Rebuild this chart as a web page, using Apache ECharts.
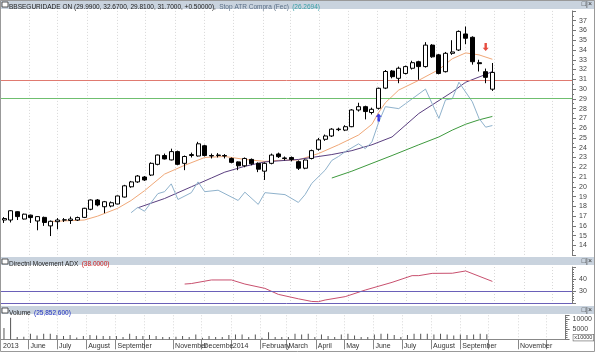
<!DOCTYPE html>
<html><head><meta charset="utf-8">
<script src="https://cdn.jsdelivr.net/npm/echarts@6/dist/echarts.min.js"></script>
<style>html,body{margin:0;padding:0;background:#fff}#c{width:595px;height:352px}</style>
</head><body><div id="c"></div><script>
// Weekly candles, BBSEGURIDADE ON, May 2013 - Sep 2014
const FONT = 'Liberation Sans, Arial, sans-serif';
const T0 = Date.UTC(2013, 4, 6), WEEK = 7 * 864e5;
const wt = (i) => T0 + i * WEEK;

// [open, close, low, high] per week
const ohlc = [
  [16.6,16.75,16.3,16.9],[16.6,17.55,16.35,17.6],[17.45,16.95,16.6,17.5],[16.7,17.2,16.65,17.25],
  [17.1,16.85,16.3,17.15],[16.5,16.95,15.55,17.0],[16.87,16.35,16.0,16.95],[16.0,16.47,14.96,16.55],
  [16.43,16.6,15.65,16.8],[16.6,16.62,16.4,16.8],[16.55,16.7,16.2,16.95],[16.6,16.85,16.5,16.95],
  [16.87,17.8,16.8,17.85],[17.7,18.65,17.6,18.7],[18.65,18.14,18.0,18.75],[17.96,18.47,17.3,18.55],
  [18.03,18.37,17.9,18.5],[18.24,19.06,18.2,19.1],[18.95,20.1,18.9,20.2],[20.0,20.5,19.9,20.6],
  [20.5,21.1,20.4,21.2],[21.0,20.7,20.6,21.1],[21.2,22.4,21.1,22.5],[22.3,23.25,22.2,23.3],
  [23.2,22.85,22.8,23.4],[22.75,23.6,22.7,23.9],[23.6,22.3,22.2,23.7],[22.4,23.1,21.7,23.2],
  [23.2,23.3,23.0,23.5],[23.15,24.4,23.1,24.6],[24.2,23.2,23.1,24.3],[23.2,23.15,22.9,23.4],
  [23.2,23.25,23.0,23.45],[23.2,23.15,22.9,23.35],[22.9,22.5,22.4,23.0],[22.55,22.15,21.7,22.6],
  [22.15,22.9,22.0,23.0],[22.8,22.35,22.2,22.9],[22.4,21.8,21.5,22.5],[21.6,22.4,20.7,22.5],
  [22.4,23.25,22.3,23.4],[23.36,23.08,22.95,23.5],[22.95,22.9,22.7,23.1],[23.0,22.8,22.6,23.1],
  [22.57,21.9,21.72,22.7],[21.9,22.74,21.8,22.8],[22.9,23.7,22.8,23.8],[23.84,24.8,23.7,25.0],
  [24.86,25.2,24.7,25.35],[25.2,25.9,25.1,26.0],[25.85,25.9,25.7,26.05],[25.8,26.15,25.7,26.3],
  [26.15,27.86,26.1,27.95],[27.86,28.2,27.7,28.6],[28.2,27.7,26.9,28.3],[27.6,27.93,27.4,28.1],
  [28.03,30.08,27.9,30.15],[30.1,31.8,30.0,31.95],[31.85,31.27,31.1,31.95],[31.1,32.13,30.6,32.3],
  [31.6,32.3,31.5,32.4],[32.13,32.7,32.0,32.9],[32.8,32.3,30.95,32.9],[32.3,34.5,32.2,34.8],
  [34.5,33.3,33.2,34.6],[33.5,31.6,31.5,33.6],[31.78,33.66,31.7,33.8],[33.66,33.8,33.5,35.0],
  [34.0,35.9,33.9,36.0],[35.64,35.2,34.6,36.4],[35.3,32.8,32.5,35.4],[32.7,32.6,31.8,33.0],
  [31.78,31.2,30.6,32.1],[29.99,31.7,29.81,32.67]
];

// volume, x10000
const volume = [5650,10800,1100,1300,2750,1900,2750,2750,2100,1600,2100,900,1600,2100,1900,1600,
  1600,1600,1100,2750,1600,1600,2100,1600,1100,1100,1300,1600,1100,2400,800,1600,1100,1100,2100,
  2400,2400,1100,2400,800,3500,1100,1100,1100,2750,2400,2750,1100,2400,1600,1100,2400,2750,1900,
  1100,1100,2400,2750,2750,2100,1100,2100,2750,2750,2750,2400,2750,2400,1900,2400,2100,2400,2750,2585];

// overlay lines: [week index, value]
const maFast = [[7,16.45],[12,16.6],[14,17.0],[17,17.8],[19,18.6],[21,19.6],[24,21.3],[27,22.2],[30,23.0],
  [33,23.1],[36,22.8],[39,22.6],[41,22.7],[44,22.75],[47,23.4],[50,24.3],[53,25.3],[55,26.4],[56,27.6],
  [57,28.6],[59,29.9],[62,30.9],[65,32.0],[67,33.1],[69,33.7],[71,33.5],[73,33.05]];
const maSlow = [[20,17.85],[24,18.8],[28,20.0],[31,20.9],[33,21.5],[36,22.1],[39,22.55],[44,22.8],
  [49,23.3],[52,23.7],[55,24.3],[58,25.1],[62,27.5],[67,29.7],[69,30.7],[72,31.5],[73,31.8]];
const maLong = [[49,20.9],[52,21.6],[55,22.4],[58,23.2],[62,24.3],[65,25.1],[67,25.8],[69,26.4],[71,26.85],[73,27.2]];
const stopAtr = [[19,17.35],[20,17.9],[21,17.5],[23,19.3],[24,19.5],[25,20.3],[26,18.7],[28,19.4],[29,20.5],
  [30,19.5],[32,19.65],[35,18.6],[36,19.45],[38,18.2],[39,19.4],[42,19.2],[44,18.4],[45,19.2],[46,20.35],
  [48,21.7],[49,22.7],[50,23.1],[51,23.6],[53,24.4],[54,23.9],[55,24.6],[56,26.6],[57,28.2],[59,28.0],
  [60,28.5],[63,30.0],[64,28.5],[65,27.0],[66,28.9],[67,29.0],[68,30.7],[70,28.7],[71,27.0],[72,26.1],[73,26.27]];
const adx = [[27,35.8],[28,36.2],[31,39.2],[34,39.2],[36,35.8],[39,32.2],[41,27.2],[44,23.5],[46,21.3],
  [47,21.1],[48,22.5],[51,25.3],[54,30.8],[58,37.2],[61,42.8],[62,42.8],[64,44.7],[67,44.8],[69,46.7],[73,38.0]];
const levels = { red: 30.9, green: 29.05 };
const buySignal = [[56, 27.1]];
const sellSignal = [[72, 34.3]];
const lastClose = 31.7;

// month ticks and their labels
const months = [
  [2013,5,'June'],[2013,6,'July'],[2013,7,'August'],[2013,8,'September'],[2013,9,''],[2013,10,'November'],
  [2013,11,'Decembe'],[2014,0,'2014'],[2014,1,'February'],[2014,2,'March'],[2014,3,'April'],[2014,4,'May'],
  [2014,5,'June'],[2014,6,'July'],[2014,7,'August'],[2014,8,'September'],[2014,9,''],[2014,10,'November'],[2014,11,'']
];
const xMin = wt(-0.45), xMax = wt(84.9);
const monthTicks = months.map(m => Date.UTC(m[0], m[1], 1));
const labelText = {}; labelText[xMin] = '2013';
months.forEach((m, k) => { if (m[2]) labelText[monthTicks[k]] = m[2]; });
const labelTicks = Object.keys(labelText).map(Number);

const pts = (arr) => arr.map(([i, v]) => [wt(i), v]);
const GRID_C = '#d8d8d8';

function xAx(gi, showLabels) {
  return {
    type: 'value', gridIndex: gi, min: xMin, max: xMax, scale: true,
    axisLine: { show: showLabels, onZero: false, lineStyle: { color: '#888' } },
    axisTick: { show: showLabels, customValues: monthTicks, length: 10, lineStyle: { color: '#888' } },
    axisLabel: showLabels ? {
      customValues: labelTicks, formatter: (v) => labelText[v] || '', align: 'left', margin: 3,
      color: '#333', fontSize: 7, fontFamily: FONT, padding: [0, 0, 0, 2], hideOverlap: false
    } : { show: false, customValues: monthTicks },
    splitLine: { show: true, lineStyle: { color: GRID_C, type: [1, 2], width: 1 } },
  };
}
function yAx(gi, opt) {
  return Object.assign({
    type: 'value', gridIndex: gi, position: 'right',
    axisLine: { show: true, lineStyle: { color: '#777' } },
    axisTick: { show: true, length: 4, lineStyle: { color: '#777' } },
    minorTick: { show: true, splitNumber: 2, length: 2, lineStyle: { color: '#777' } },
    axisLabel: { color: '#444', fontSize: 7, fontFamily: FONT, margin: 7 },
    splitLine: { show: false },
  }, opt);
}

const option = {
  animation: false,
  backgroundColor: '#fff',
  grid: [
    { left: 1, right: 23, top: 10.9, height: 244.3 },
    { left: 1, right: 23, top: 267, height: 36 },
    { left: 1, right: 23, top: 315.3, height: 24 },
  ],
  xAxis: [xAx(0, false), xAx(1, false), xAx(2, true)],
  yAxis: [
    yAx(0, { min: 13, max: 38, interval: 1, axisLabel: { color: '#444', fontSize: 7, fontFamily: FONT, margin: 7,
      showMinLabel: false, showMaxLabel: false } }),
    yAx(1, { min: 20, max: 50, interval: 10, minorTick: { show: true, splitNumber: 5, length: 2, lineStyle: { color: '#777' } },
      axisLabel: { color: '#444', fontSize: 7, fontFamily: FONT, margin: 7, formatter: (v) => (v === 30 || v === 40) ? v : '' } }),
    yAx(2, { min: 0, max: 12000, interval: 5000, minorTick: { show: true, splitNumber: 5, length: 2, lineStyle: { color: '#777' } },
      axisLabel: { color: '#444', fontSize: 7, fontFamily: FONT, margin: 7, formatter: (v) => (v === 5000 || v === 10000) ? v : '' } }),
  ],
  series: [
    {
      type: 'candlestick', xAxisIndex: 0, yAxisIndex: 0, barWidth: 4.5,
      data: ohlc.map((d, i) => [wt(i)].concat(d)),
      itemStyle: { color: '#fff', color0: '#000', borderColor: '#000', borderColor0: '#000', borderWidth: 1 },
      z: 5,
      markLine: {
        silent: true, symbol: 'none', animation: false,
        data: [
          { yAxis: levels.red, lineStyle: { color: '#e07a70', width: 1, type: 'solid' }, label: { show: false } },
          { yAxis: levels.green, lineStyle: { color: '#6fbf6f', width: 1, type: 'solid' }, label: { show: false } },
          { yAxis: lastClose, lineStyle: { opacity: 0 },
            label: { show: true, position: 'end', distance: 0, formatter: lastClose.toFixed(4),
              backgroundColor: '#000', color: '#3cd13c', fontSize: 6.5, fontFamily: FONT, padding: [1, 1, 0, 1] } },
        ],
      },
    },
    { type: 'line', name: 'fast', data: pts(maFast), symbol: 'none', lineStyle: { color: '#f0a878', width: 1 }, z: 3 },
    { type: 'line', name: 'slow', data: pts(maSlow), symbol: 'none', lineStyle: { color: '#5a3f80', width: 1 }, z: 3 },
    { type: 'line', name: 'long', data: pts(maLong), symbol: 'none', lineStyle: { color: '#3e9a3e', width: 1 }, z: 3 },
    { type: 'line', name: 'Stop ATR Compra (Fec)', data: pts(stopAtr), symbol: 'none', lineStyle: { color: '#8fb2cc', width: 1 }, z: 3 },
    { type: 'scatter', data: pts(buySignal), symbol: 'path://M5,0 L10,5 L7,5 L7,12 L3,12 L3,5 L0,5 Z',
      symbolSize: [6, 8], itemStyle: { color: '#1010e0' }, z: 6 },
    { type: 'scatter', data: pts(sellSignal), symbol: 'path://M5,12 L10,7 L7,7 L7,0 L3,0 L3,7 L0,7 Z',
      symbolSize: [6, 8], itemStyle: { color: '#e02010' }, z: 6 },
    {
      type: 'line', name: 'ADX', xAxisIndex: 1, yAxisIndex: 1, data: pts(adx), symbol: 'none',
      lineStyle: { color: '#c8506e', width: 1 },
      markLine: { silent: true, symbol: 'none', label: { show: false },
        lineStyle: { color: '#6a60b8', width: 1, type: 'solid' }, data: [{ yAxis: 30 }, { yAxis: 20 }] },
    },
    {
      type: 'bar', name: 'Volume', xAxisIndex: 2, yAxisIndex: 2, barWidth: 1,
      data: volume.map((v, i) => [wt(i), v]), itemStyle: { color: '#555' },
    },
  ],
  graphic: [
    { type: 'rect', shape: { x: 0, y: 0, width: 595, height: 9 }, style: { fill: '#c9d3de' }, silent: true },
    { type: 'rect', shape: { x: 0, y: 257, width: 595, height: 8 }, style: { fill: '#c9d3de' }, silent: true },
    { type: 'rect', shape: { x: 0, y: 306, width: 595, height: 8 }, style: { fill: '#c9d3de' }, silent: true },
    { type: 'rect', shape: { x: 2, y: 2, width: 6, height: 5 }, style: { fill: '#fff', stroke: '#333', lineWidth: 0.8 } },
    { type: 'rect', shape: { x: 2, y: 259, width: 6, height: 5 }, style: { fill: '#fff', stroke: '#333', lineWidth: 0.8 } },
    { type: 'rect', shape: { x: 2, y: 308, width: 6, height: 5 }, style: { fill: '#fff', stroke: '#333', lineWidth: 0.8 } },
    { type: 'text', left: 9, top: 1, style: { text: '{a|BBSEGURIDADE ON (29.9900, 32.6700, 29.8100, 31.7000, +0.50000),} {b|Stop ATR Compra (Fec)} {c|(26.2694)}',
      rich: { a: { fill: '#222', fontSize: 6.5, fontFamily: FONT }, b: { fill: '#5a6e86', fontSize: 6.5, fontFamily: FONT },
        c: { fill: '#3aa0a8', fontSize: 6.5, fontFamily: FONT } } } },
    { type: 'text', left: 9, top: 258, style: { text: '{a|Directnl Movement ADX} {c|(38.0000)}',
      rich: { a: { fill: '#222', fontSize: 6.5, fontFamily: FONT }, c: { fill: '#d02020', fontSize: 6.5, fontFamily: FONT } } } },
    { type: 'text', left: 9, top: 307, style: { text: '{a|Volume} {c|(25,852,600)}',
      rich: { a: { fill: '#222', fontSize: 6.5, fontFamily: FONT }, c: { fill: '#2030c0', fontSize: 6.5, fontFamily: FONT } } } },
    { type: 'text', right: 3, top: 1, style: { text: '□|×', fill: '#333', fontSize: 7, fontFamily: FONT } },
    { type: 'text', right: 3, top: 258, style: { text: '□|×', fill: '#333', fontSize: 7, fontFamily: FONT } },
    { type: 'text', right: 3, top: 307, style: { text: '□|×', fill: '#333', fontSize: 7, fontFamily: FONT } },
    { type: 'text', right: 1, top: 334, style: { text: 'x10000', fill: '#333', fontSize: 5.5, fontFamily: FONT,
      backgroundColor: '#fff', borderColor: '#666', borderWidth: 0.6, padding: [0, 1] } },
    { type: 'rect', shape: { x: 0.5, y: 0.5, width: 594, height: 351 }, style: { fill: 'none', stroke: '#999', lineWidth: 1 }, silent: true },
  ],
};
const chart = echarts.init(document.getElementById('c'), null, { renderer: 'canvas' });
chart.setOption(option);
</script></body></html>
